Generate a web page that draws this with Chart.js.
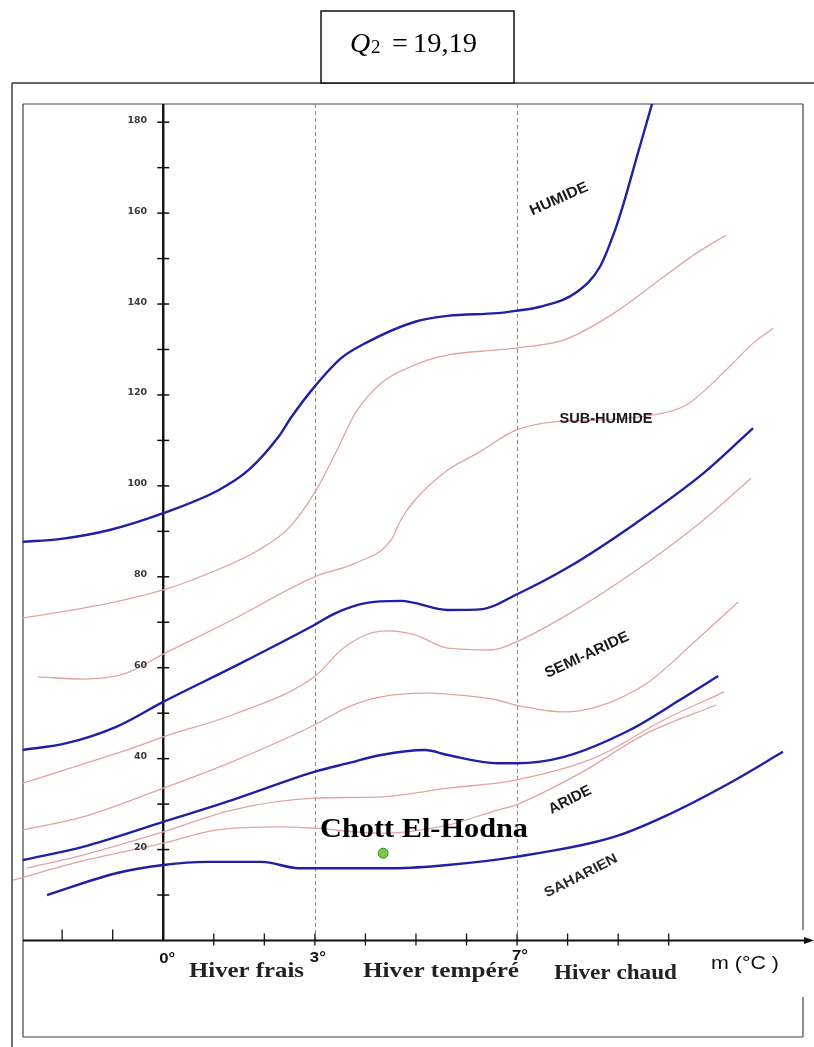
<!DOCTYPE html>
<html>
<head>
<meta charset="utf-8">
<script src="https://cdn.jsdelivr.net/npm/chart.js@4.4.1/dist/chart.umd.min.js"></script>
<style>
  html, body { margin: 0; padding: 0; background: #ffffff; }
  canvas { display: block; }
</style>
</head>
<body>
<canvas id="climagramme" width="814" height="1047" style="width:814px;height:1047px"></canvas>
<script>
// Climagramme d'Emberger : Q2 en fonction de m (°C)

// Station
const stationName = 'Chott El-Hodna';
const stationM = 4.35;
const stationQ2 = 19.19;

// Limites des étages bioclimatiques (traits bleus)
const limHumideM = [-2.78, -2.05, -1.06, 0, 1.10, 1.69, 2.28, 2.54, 2.97, 3.52, 4.00, 4.98, 5.63, 6.61, 6.97, 7.46, 8.19, 8.64, 8.94, 9.11, 9.37, 9.67, 9.80];
const limHumideQ = [87.7, 88.3, 90.3, 94.0, 99.1, 103.5, 110.8, 115.2, 121.5, 128.1, 131.4, 136.1, 137.4, 138.0, 138.5, 139.4, 142.7, 148.2, 156.3, 162.2, 172.4, 184.0, 189.3];

const limSubHumideM = [-2.78, -1.91, -0.93, 0, 1.50, 2.99, 3.41, 4.00, 4.70, 5.63, 6.32, 6.97, 8.03, 9.35, 10.69, 11.67];
const limSubHumideQ = [41.9, 43.4, 47.0, 52.5, 60.8, 69.4, 72.0, 74.2, 74.7, 72.7, 72.9, 76.0, 82.2, 91.8, 102.8, 112.7];

const limSemiArideM = [-2.78, -1.59, 0, 1.36, 2.99, 3.66, 4.31, 5.18, 5.63, 6.61, 6.97, 7.93, 9.23, 10.22, 10.98];
const limSemiArideQ = [17.7, 20.6, 26.1, 30.9, 37.1, 39.0, 40.8, 41.9, 40.8, 39.0, 39.0, 40.4, 46.3, 52.9, 58.2];

const limArideM = [-2.30, -0.93, 0, 0.85, 1.95, 2.68, 2.99, 4.59, 5.63, 6.97, 8.92, 9.90, 11.20, 12.26];
const limArideQ = [10.0, 14.8, 16.6, 17.3, 17.3, 15.9, 15.9, 15.9, 16.6, 18.4, 22.8, 27.2, 34.6, 41.5];

// Sous-étages (traits roses)
const subHumideSupM = [-2.78, -1.06, 0, 0.57, 1.89, 2.48, 2.99, 3.41, 3.80, 4.31, 4.98, 5.63, 6.61, 6.97, 7.93, 8.92, 9.90, 10.55, 11.14];
const subHumideSupQ = [70.9, 74.2, 77.1, 79.3, 85.9, 90.7, 98.4, 107.2, 116.0, 122.6, 126.6, 128.8, 129.9, 130.3, 132.1, 138.0, 146.0, 151.2, 155.2];

const subHumideInfM = [-2.48, -1.59, -0.73, 0, 1.36, 2.99, 3.80, 4.51, 4.70, 4.98, 5.63, 6.22, 6.99, 7.74, 8.72, 9.70, 10.35, 11.20, 11.67, 12.07];
const subHumideInfQ = [58.0, 57.5, 58.8, 63.0, 70.5, 80.0, 83.0, 88.1, 92.5, 96.9, 103.5, 107.2, 112.3, 114.1, 114.5, 115.6, 117.8, 126.2, 131.4, 134.7];

const semiArideSupM = [-2.78, -1.59, -0.61, 0, 1.36, 2.99, 3.52, 4.00, 4.45, 4.98, 5.63, 6.48, 6.99, 8.05, 9.37, 10.69, 11.63];
const semiArideSupQ = [34.6, 38.8, 42.3, 44.8, 49.6, 58.0, 63.9, 67.2, 68.1, 67.2, 64.3, 63.9, 65.7, 72.0, 81.5, 92.5, 101.7];

const semiArideInfM = [-2.78, -1.59, 0, 1.36, 2.99, 3.66, 4.31, 5.18, 5.63, 6.61, 6.97, 7.93, 8.58, 9.57, 10.55, 11.38];
const semiArideInfQ = [24.3, 27.2, 33.5, 39.3, 47.4, 51.4, 53.6, 54.4, 54.2, 52.9, 51.8, 50.3, 51.4, 56.6, 66.1, 74.5];

const arideSupM = [-2.70, -1.59, 0, 1.36, 2.99, 4.31, 5.63, 6.97, 8.58, 9.90, 11.10];
const arideSupQ = [15.9, 18.8, 23.9, 28.7, 31.3, 31.6, 33.5, 35.3, 40.4, 48.5, 54.7];

const arideInfM = [-2.97, -1.59, 0, 1.04, 2.34, 2.99, 4.31, 5.63, 6.61, 6.97, 8.25, 9.57, 10.94];
const arideInfQ = [13.3, 17.5, 21.4, 24.3, 25.0, 24.7, 23.6, 25.4, 28.7, 29.8, 36.8, 45.6, 51.8];

// Axes
const xMin = -2.992, xMax = 12.756;
const yMin = 0, yMax = 184;
const xTickValues = [-2, -1, 1, 2, 3, 4, 5, 6, 7, 8, 9, 10];
const xLabelValues = [0, 3, 7];
const xLabelTexts = ['0°', '3°', '7°'];
const xLabelBaselines = [963, 962, 960];
const winterLimits = [3, 7];
const yLabelValues = [20, 40, 60, 80, 100, 120, 140, 160, 180];
const yLabelTexts = ['20', '40', '60', '80', '100', '120', '140', '160', '180'];
const yTickStep = 10;

const BLUE = '#2020a6';
const PINK = '#e2a3a3';

const pts = (m, q) => m.map((v, i) => ({ x: v, y: q[i] }));
const limit = (label, m, q) => ({
  label, data: pts(m, q), showLine: true, borderColor: BLUE, borderWidth: 2.4,
  pointRadius: 0, cubicInterpolationMode: 'monotone', fill: false
});
const sub = (label, m, q) => ({
  label, data: pts(m, q), showLine: true, borderColor: PINK, borderWidth: 1.3,
  pointRadius: 0, cubicInterpolationMode: 'monotone', fill: false
});

// Draws text stretched or squeezed to a given width
function fitText(ctx, text, font, x, y, w, color, align) {
  ctx.save();
  ctx.font = font;
  ctx.fillStyle = color;
  ctx.textBaseline = 'alphabetic';
  ctx.textAlign = 'left';
  const m = ctx.measureText(text).width;
  ctx.translate(x, y);
  ctx.scale(w / m, 1);
  ctx.fillText(text, align === 'center' ? -m / 2 : (align === 'right' ? -m : 0), 0);
  ctx.restore();
}
function rotText(ctx, text, font, cx, cy, w, angleDeg, color) {
  ctx.save();
  ctx.font = font;
  ctx.fillStyle = color;
  ctx.textBaseline = 'middle';
  ctx.textAlign = 'center';
  const m = ctx.measureText(text).width;
  ctx.translate(cx, cy);
  ctx.rotate(angleDeg * Math.PI / 180);
  ctx.scale(w / m, 1);
  ctx.fillText(text, 0, 0);
  ctx.restore();
}
function line(ctx, x1, y1, x2, y2) {
  ctx.beginPath(); ctx.moveTo(x1, y1); ctx.lineTo(x2, y2); ctx.stroke();
}

const decor = {
  id: 'decor',
  beforeDatasetsDraw(chart) {
    const ctx = chart.ctx;
    const xs = chart.scales.x, ys = chart.scales.y;
    const x0 = xs.getPixelForValue(0), y0 = ys.getPixelForValue(0);
    const top = chart.chartArea.top;
    ctx.save();
    // frames
    ctx.strokeStyle = '#333';
    ctx.lineWidth = 1.4;
    line(ctx, 12, 83, 814, 83);
    line(ctx, 12, 83, 12, 1047);
    ctx.strokeStyle = '#444';
    ctx.lineWidth = 1.2;
    line(ctx, 23, 104, 803, 104);
    line(ctx, 23, 104, 23, 1037);
    line(ctx, 23, 1037, 803, 1037);
    line(ctx, 803, 104, 803, 930);
    line(ctx, 803, 997, 803, 1037);
    // Q2 box
    ctx.fillStyle = '#fff';
    ctx.fillRect(321, 11, 193, 72);
    ctx.strokeStyle = '#111';
    ctx.lineWidth = 1.5;
    ctx.strokeRect(321, 11, 193, 72);

    // winter-type limits
    ctx.strokeStyle = '#8c8c8c';
    ctx.lineWidth = 1.1;
    ctx.setLineDash([4, 3]);
    winterLimits.forEach(v => {
      const px = Math.round(xs.getPixelForValue(v)) + 0.5;
      line(ctx, px, top, px, y0);
    });
    ctx.setLineDash([]);

    // y axis
    ctx.strokeStyle = '#111';
    ctx.lineWidth = 2.4;
    line(ctx, x0, top, x0, y0);
    ctx.lineWidth = 1.5;
    for (let v = yTickStep; v <= 180; v += yTickStep) {
      const py = ys.getPixelForValue(v);
      line(ctx, x0 - 6, py, x0 + 6, py);
    }
    // x axis
    ctx.lineWidth = 2.2;
    line(ctx, 23, y0, 806, y0);
    ctx.fillStyle = '#111';
    ctx.beginPath();
    ctx.moveTo(814, y0); ctx.lineTo(804, y0 - 3.5); ctx.lineTo(804, y0 + 3.5); ctx.closePath(); ctx.fill();
    ctx.lineWidth = 1.3;
    xTickValues.forEach(v => {
      const px = xs.getPixelForValue(v);
      if (v < 0) line(ctx, px, y0 - 11, px, y0);
      else line(ctx, px, y0 - 7, px, y0 + 5);
    });
    ctx.restore();
  },
  afterDatasetsDraw(chart) {
    const ctx = chart.ctx;
    const xs = chart.scales.x, ys = chart.scales.y;
    const x0 = xs.getPixelForValue(0);

    // y labels
    ctx.save();
    ctx.font = 'bold 9.5px "DejaVu Sans"';
    ctx.fillStyle = '#3a3a3a';
    ctx.textAlign = 'right';
    ctx.textBaseline = 'middle';
    yLabelValues.forEach((v, i) => {
      ctx.fillText(yLabelTexts[i], x0 - 16, ys.getPixelForValue(v) - 2);
    });
    ctx.restore();

    // x labels
    xLabelValues.forEach((v, i) => {
      const px = xs.getPixelForValue(v) + (v === 0 ? 4 : 3);
      fitText(ctx, xLabelTexts[i], 'bold 15px "Liberation Sans"', px, xLabelBaselines[i], 16, '#111', 'center');
    });
    const serif = 'bold 22px "Liberation Serif"';
    fitText(ctx, 'Hiver frais', serif, 189, 977, 115, '#222', 'left');
    fitText(ctx, 'Hiver tempéré', serif, 363, 977, 156, '#222', 'left');
    fitText(ctx, 'Hiver chaud', serif, 554, 979, 123, '#222', 'left');
    fitText(ctx, 'm (°C )', '18px "Liberation Sans"', 711, 969, 68, '#111', 'left');

    // zone names
    const zf = 'bold 15px "Liberation Sans"';
    rotText(ctx, 'HUMIDE', zf, 559, 199, 62, -24, '#1a1a1a');
    rotText(ctx, 'SUB-HUMIDE', zf, 606, 419, 93, 0, '#1a1a1a');
    rotText(ctx, 'SEMI-ARIDE', zf, 587, 655, 91, -25, '#1a1a1a');
    rotText(ctx, 'ARIDE', zf, 570, 800, 46, -27, '#1a1a1a');
    rotText(ctx, 'SAHARIEN', 'bold 14px "Liberation Sans"', 581, 876, 80, -27, '#2a2a2a');

    // station name
    fitText(ctx, stationName, 'bold 27px "Liberation Serif"', 320, 837, 208, '#000', 'left');

    // Q2 value
    ctx.save();
    ctx.fillStyle = '#000';
    ctx.textBaseline = 'alphabetic';
    ctx.font = 'italic 28px "Liberation Serif"';
    ctx.fillText('Q', 350, 52);
    ctx.font = '19px "Liberation Serif"';
    ctx.fillText('2', 371, 53);
    ctx.font = '28px "Liberation Serif"';
    ctx.fillText('=', 392, 52);
    ctx.restore();
    fitText(ctx, stationQ2.toFixed(2).replace('.', ','), '28px "Liberation Serif"', 413, 52, 64, '#000', 'left');
  }
};

new Chart(document.getElementById('climagramme'), {
  type: 'scatter',
  data: {
    datasets: [
      {
        label: stationName, data: [{ x: stationM, y: stationQ2 }], showLine: false,
        pointRadius: 5, pointHoverRadius: 5, backgroundColor: '#7cc64a', borderColor: '#2f8a2f', borderWidth: 1
      },
      limit('Humide', limHumideM, limHumideQ),
      limit('Sub-humide', limSubHumideM, limSubHumideQ),
      limit('Semi-aride', limSemiArideM, limSemiArideQ),
      limit('Aride', limArideM, limArideQ),
      sub('Sub-humide supérieur', subHumideSupM, subHumideSupQ),
      sub('Sub-humide inférieur', subHumideInfM, subHumideInfQ),
      sub('Semi-aride supérieur', semiArideSupM, semiArideSupQ),
      sub('Semi-aride inférieur', semiArideInfM, semiArideInfQ),
      sub('Aride supérieur', arideSupM, arideSupQ),
      sub('Aride inférieur', arideInfM, arideInfQ)
    ]
  },
  options: {
    responsive: false,
    devicePixelRatio: 1,
    animation: false,
    events: [],
    layout: { padding: { left: 12, right: 2, top: 104, bottom: 106.5 } },
    scales: {
      x: { type: 'linear', min: xMin, max: xMax, display: false },
      y: { type: 'linear', min: yMin, max: yMax, display: false }
    },
    plugins: { legend: { display: false }, tooltip: { enabled: false } }
  },
  plugins: [decor]
});
</script>
</body>
</html>
